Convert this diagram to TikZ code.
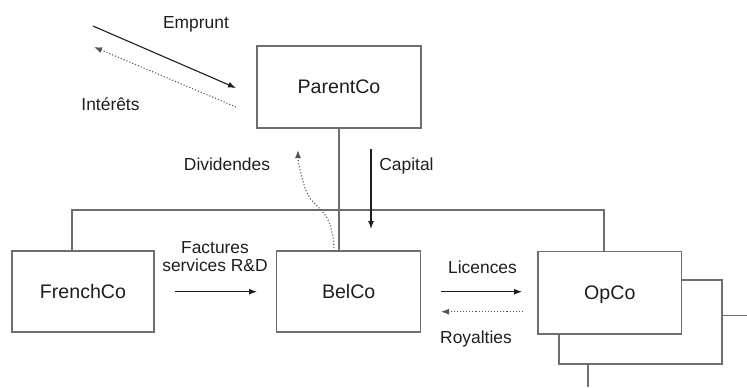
\documentclass[tikz,border=0pt]{standalone}
\usepackage{fontspec}
\setmainfont{Liberation Sans}
\usetikzlibrary{arrows.meta}
\definecolor{boxgray}{HTML}{6E6E6E}
\definecolor{ink}{HTML}{1E1E1E}
\begin{document}
\begin{tikzpicture}[x=0.5pt,y=-0.5pt,
  entity/.style={draw=boxgray, line width=0.6pt, fill=white, inner sep=0pt,
    text depth=0pt, font=\fontsize{9.8}{12}\selectfont, text=ink},
  link/.style={draw=boxgray, line width=0.6pt},
  flow/.style={draw=ink, line width=0.55pt, -{Latex[length=4pt,width=3pt]}},
  backflow/.style={flow, draw=ink!75, densely dotted},
  lbl/.style={font=\fontsize{8.7}{9.35}\selectfont, text=ink, inner sep=0pt,
    align=center, anchor=base}]
\useasboundingbox (0,0) rectangle (747,387);

% companies
\node[entity, minimum width=82pt, minimum height=41pt] (parent) at (339,87) {ParentCo};
\node[entity, minimum width=72pt, minimum height=40.5pt] (bel) at (348.7,291.5) {BelCo};
\node[entity, minimum width=71pt, minimum height=40.5pt] (french) at (83,291.5) {FrenchCo};
\node[entity, minimum width=81.5pt, minimum height=42pt] (shadow) at (640.5,322) {};
\node[entity, minimum width=71.85pt, minimum height=41.15pt] (opco) at (609.8,292.8) {OpCo};

% ownership lines
\coordinate (busL) at (72,210);
\coordinate (busR) at (604,210);
\draw[link] (busL |- french.north) -- (busL) -- (busR) -- (busR |- opco.north);
\draw[link] (parent.south) -- (parent.south |- bel.north);
\coordinate (eastout) at (747,315.7);
\coordinate (southout) at (588,387);
\draw[link] (shadow.east |- eastout) -- (eastout);
\draw[link] (shadow.south -| southout) -- (southout);

% loan and interest
\coordinate (loanA) at (93,26);
\coordinate (loanB) at (236,88);
\coordinate (intA) at (236,107);
\coordinate (intB) at (94,47);
\draw[flow] (loanA) -- (loanB);
\draw[backflow] (intA) -- (intB);
\node[lbl] (emprunt) at (196,28) {Emprunt};
\node[lbl] (interets) at (110.5,110) {Intérêts};

% dividends and capital
\coordinate (divA) at (334,251);
\coordinate (divB) at (298,150);
\draw[backflow] (divA) .. controls (333,205) and (313,212) .. (305,188)
  .. controls (300,172) and (298,162) .. (divB);
\coordinate (capA) at (371,149);
\coordinate (capB) at (371,229);
\draw[flow] (capA) -- (capB);
\node[lbl] (dividendes) at (227,170) {Dividendes};
\node[lbl] (capital) at (406.5,170) {Capital};

% services, licences, royalties
\coordinate (rdA) at (175,291.7);
\coordinate (rdB) at (257,291.7);
\draw[flow] (rdA) -- (rdB);
\node[lbl] (factures) at (215,271.7) {Factures\\services R\&D};
\coordinate (licA) at (441,291.7);
\coordinate (licB) at (522,291.7);
\draw[flow] (licA) -- (licB);
\coordinate (royA) at (523,311.7);
\coordinate (royB) at (441,311.7);
\draw[backflow] (royA) -- (royB);
\node[lbl] (licences) at (482.5,273) {Licences};
\node[lbl] (royalties) at (476,343) {Royalties};
\end{tikzpicture}
\end{document}
